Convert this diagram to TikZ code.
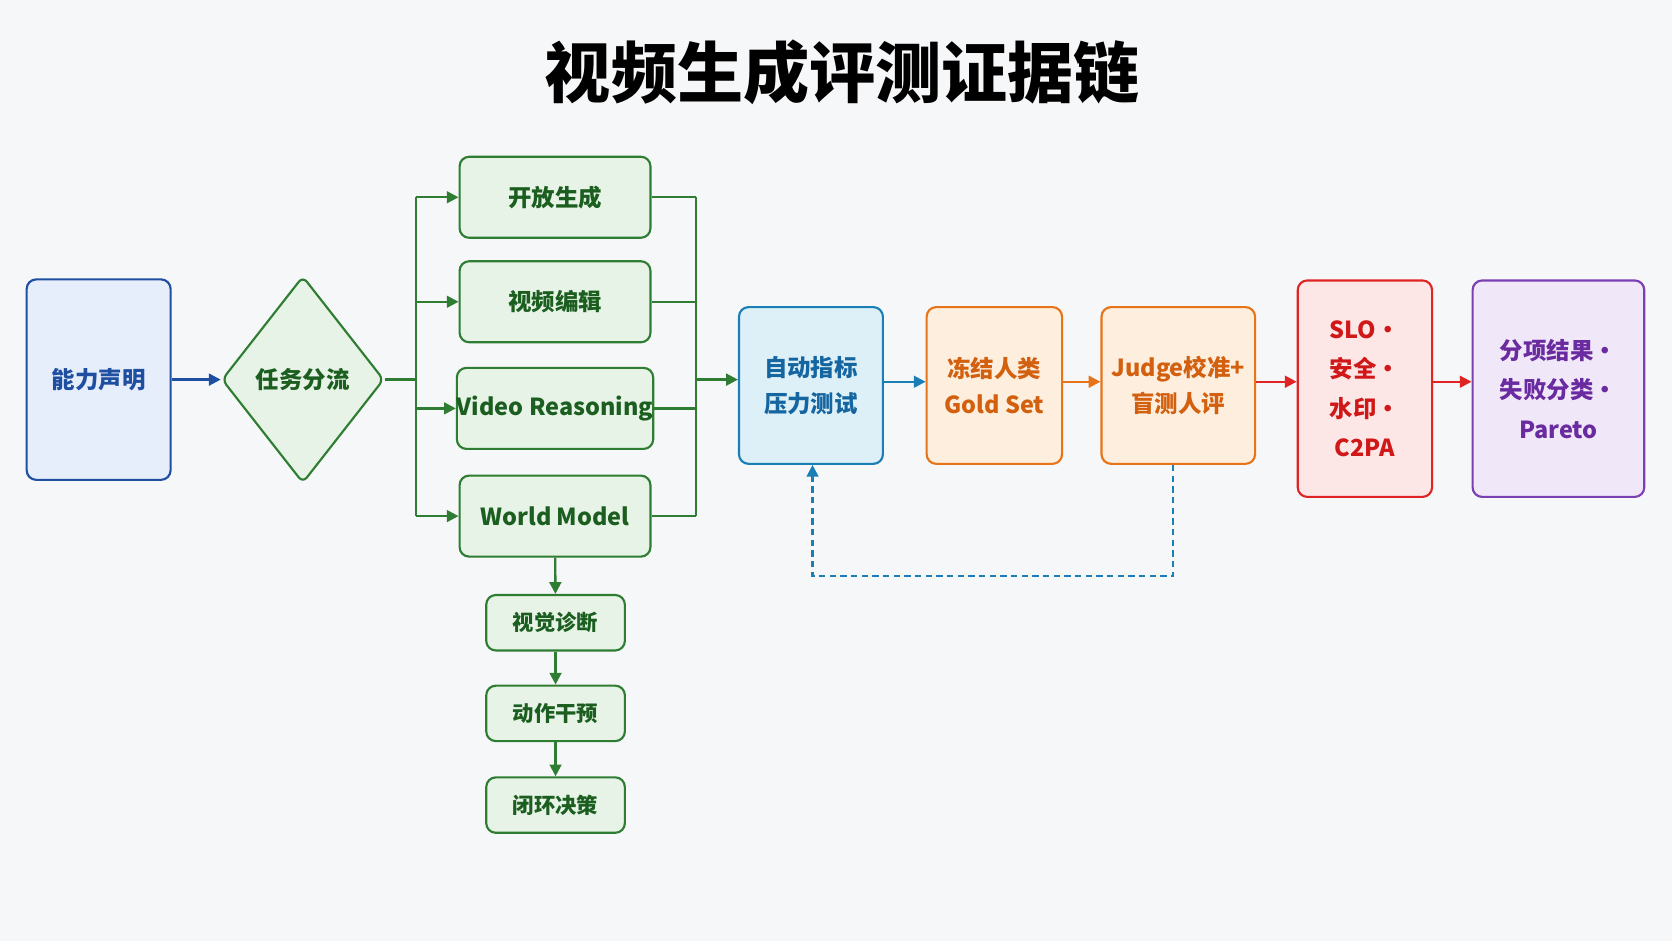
\documentclass[tikz,border=0pt]{standalone}
\usepackage{fontspec}
\setmainfont{Noto Sans CJK SC}
\usetikzlibrary{shapes.geometric,arrows.meta}
\definecolor{bg}{HTML}{F6F7F9}
\definecolor{bl}{HTML}{1F4FA0}\definecolor{blf}{HTML}{E6EEFB}
\definecolor{gr}{HTML}{2E7D32}\definecolor{grf}{HTML}{E6F3E6}
\definecolor{grt}{HTML}{1B5E20}
\definecolor{cy}{HTML}{1A7FB5}\definecolor{cyf}{HTML}{DDF0F8}
\definecolor{cyt}{HTML}{1565A0}
\definecolor{or}{HTML}{E8741A}\definecolor{orf}{HTML}{FDEEDD}
\definecolor{ort}{HTML}{D2600E}
\definecolor{rd}{HTML}{E02424}\definecolor{rdf}{HTML}{FCE6E6}
\definecolor{rdt}{HTML}{D01818}
\definecolor{pu}{HTML}{7A3FB0}\definecolor{puf}{HTML}{F0E8F8}
\definecolor{put}{HTML}{6A2AA0}
\tikzset{
 box/.style={draw,line width=2pt,rounded corners=9pt,align=center,inner sep=0pt,font=\fontsize{22}{34}\selectfont\bfseries},
 gbox/.style={box,draw=gr,fill=grf,text=grt,minimum width=179pt,minimum height=76pt},
 sbox/.style={box,draw=gr,fill=grf,text=grt,minimum width=130pt,minimum height=52pt,font=\fontsize{20}{24}\selectfont\bfseries},
 arr/.style={line width=2.2pt,-{Triangle[length=11pt,width=11pt]}},
 ln/.style={line width=2.2pt},
}
\begin{document}
\begin{tikzpicture}[x=1pt,y=-1pt]
\fill[bg] (0,0) rectangle (1568,882);
\useasboundingbox (0,0) rectangle (1568,882);
\node (title) at (790,68) {\fontsize{62}{70}\selectfont\bfseries 视频生成评测证据链};
\node[box,draw=bl,fill=blf,text=bl,minimum width=135pt,minimum height=188pt] (cap) at (92.5,356) {能力声明};
\node[diamond,draw=gr,fill=grf,text=grt,line width=2pt,minimum width=152pt,minimum height=194pt,inner sep=0pt,rounded corners=6pt,font=\fontsize{22}{26}\selectfont\bfseries] (dia) at (284,356) {任务分流};
\node[gbox] (g1) at (520.5,185) {开放生成};
\node[gbox] (g2) at (520.5,283) {视频编辑};
\node[gbox] (g3) at (520.5,383) {Video Reasoning};
\node[gbox] (g4) at (520.5,484) {World Model};
\node[sbox] (s1) at (521,584) {视觉诊断};
\node[sbox] (s2) at (521,669) {动作干预};
\node[sbox] (s3) at (521,755) {闭环决策};
\node[box,draw=cy,fill=cyf,text=cyt,minimum width=135pt,minimum height=147pt] (auto) at (760.5,361.5) {自动指标\\压力测试};
\node[box,draw=or,fill=orf,text=ort,minimum width=127pt,minimum height=147pt] (gold) at (932.5,361.5) {冻结人类\\Gold Set};
\node[box,draw=or,fill=orf,text=ort,minimum width=144pt,minimum height=147pt] (judge) at (1105,361.5) {Judge校准+\\盲测人评};
\node[box,draw=rd,fill=rdf,text=rdt,minimum width=126pt,minimum height=203pt,font=\fontsize{22}{37}\selectfont\bfseries] (slo) at (1280,364.5) {SLO·\\安全·\\水印·\\C2PA};
\node[box,draw=pu,fill=puf,text=put,minimum width=161pt,minimum height=203pt,font=\fontsize{22}{37}\selectfont\bfseries] (out) at (1461.5,364.5) {分项结果·\\失败分类·\\Pareto};
\draw[arr,bl] (cap) -- (dia);
\coordinate (bx) at (390,356);
\draw[ln,gr] (dia.east) -- (bx);
\draw[ln,gr] (390,185) -- (390,484);
\foreach \g in {g1,g2,g3,g4}{\draw[arr,gr] (bx |- \g) -- (\g.west);}
\foreach \g in {g1,g2,g3,g4}{\draw[ln,gr] (\g.east) -- (653,0 |- \g);}
\draw[ln,gr] (653,185) -- (653,484);
\coordinate (mx) at (653,356);
\draw[arr,gr] (mx) -- (auto.west |- mx);
\draw[arr,gr] (g4) -- (s1);
\draw[arr,gr] (s1) -- (s2);
\draw[arr,gr] (s2) -- (s3);
\draw[arr,cy] (auto.east |- 0,358) -- (gold.west |- 0,358);
\draw[arr,or] (gold.east |- 0,358) -- (judge.west |- 0,358);
\draw[arr,rd] (judge.east |- 0,358) -- (slo.west |- 0,358);
\draw[arr,rd] (slo.east |- 0,358) -- (out.west |- 0,358);
\coordinate (d1) at (1100,540);
\coordinate (d2) at (762,540);
\draw[cy,line width=2pt,dashed,dash pattern=on 6pt off 4pt,-{Triangle[length=11pt,width=11pt]}] (judge.south -| d1) -- (d1) -- (d2) -- (auto.south -| d2);
\end{tikzpicture}
\end{document}
